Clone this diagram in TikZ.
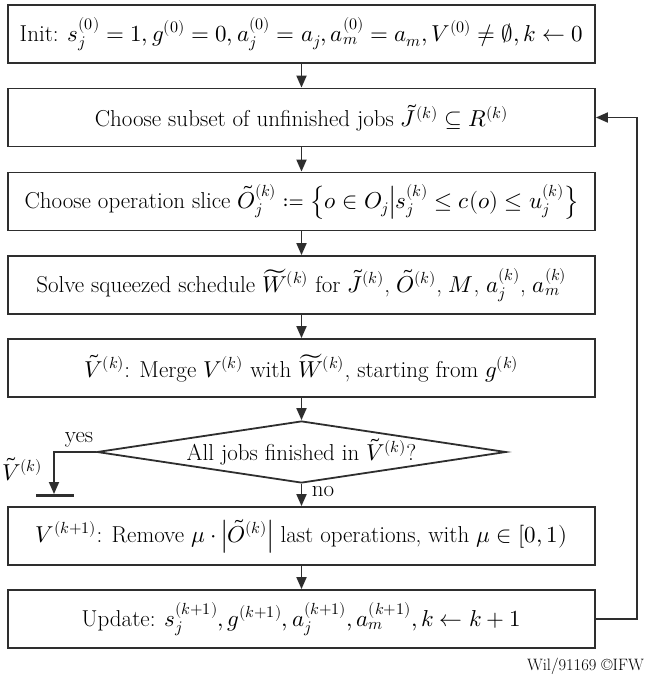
\documentclass[tikz,border=0pt]{standalone}
\usepackage{amsmath,mathtools}
\usepackage{fontspec}
\usepackage{unicode-math}
\usetikzlibrary{arrows.meta,shapes.geometric}
\definecolor{lc}{HTML}{2E2E2E}
\newcommand{\bigtxt}{\fontsize{23}{26}\selectfont}
\begin{document}
\begin{tikzpicture}[x=1pt,y=-1pt,
  box/.style={draw=lc, line width=1.8pt, minimum width=587pt, minimum height=58pt, inner sep=0pt, font=\bigtxt},
  dec/.style={draw=lc, line width=1.8pt, diamond, aspect=6.6, minimum width=402pt, minimum height=60pt, inner sep=0pt, font=\bigtxt},
  arr/.style={draw=lc, line width=1.8pt, -{Triangle[length=12pt,width=10pt]}},
  lbl/.style={font=\bigtxt, inner sep=0pt}]
\useasboundingbox (0,0) rectangle (648,680);
\node[box] (b1) at (301.5,34) {Init: $s_j^{(0)}=1, g^{(0)}=0, a_j^{(0)}=a_j, a_m^{(0)}=a_m, V^{(0)}\neq\emptyset, k\leftarrow 0$};
\node[box] (b2) at (301.5,117.5) {Choose subset of unfinished jobs $\tilde{J}^{(k)}\subseteq R^{(k)}$};
\node[box] (b3) at (301.5,201.5) {Choose operation slice $\tilde{O}_j^{(k)}\coloneqq\left\{o\in O_j \middle| s_j^{(k)}\le c(o)\le u_j^{(k)}\right\}$};
\node[box] (b4) at (301.5,285) {Solve squeezed schedule $\widetilde{W}^{(k)}$ for $\tilde{J}^{(k)}$, $\tilde{O}^{(k)}$, $M$, $a_j^{(k)}$, $a_m^{(k)}$};
\node[box] (b5) at (301.5,368) {$\tilde{V}^{(k)}$: Merge $V^{(k)}$ with $\widetilde{W}^{(k)}$, starting from $g^{(k)}$};
\node[dec] (d) at (301.5,452) {All jobs finished in $\tilde{V}^{(k)}$?};
\node[box] (b6) at (301.5,536) {$V^{(k+1)}$: Remove $\mu\cdot\left|\tilde{O}^{(k)}\right|$ last operations, with $\mu\in[0,1)$};
\node[box] (b7) at (301.5,619) {Update: $s_j^{(k+1)}, g^{(k+1)}, a_j^{(k+1)}, a_m^{(k+1)}, k\leftarrow k+1$};
\draw[arr] (b1) -- (b2);
\draw[arr] (b2) -- (b3);
\draw[arr] (b3) -- (b4);
\draw[arr] (b4) -- (b5);
\draw[arr] (b5) -- (d);
\draw[arr] (d) -- (b6);
\draw[arr] (b6) -- (b7);
\draw[arr] (b7.east) -- ([xshift=41pt]b7.east) |- (b2.east);
\coordinate (term) at (54,494);
\draw[arr] (d.west) -| (term);
\draw[draw=lc, line width=3pt] (36,495) -- (74,495);
\node[lbl] (yes) at (79,440) {yes};
\node[lbl] (vt) at (22,469) {$\tilde{V}^{(k)}$};
\node[lbl] (no) at (323,492) {no};
\node[font=\fontsize{16.5}{19}\selectfont, anchor=east, inner sep=0pt] (cr) at (644,666) {Wil/91169 ©IFW};
\end{tikzpicture}
\end{document}
